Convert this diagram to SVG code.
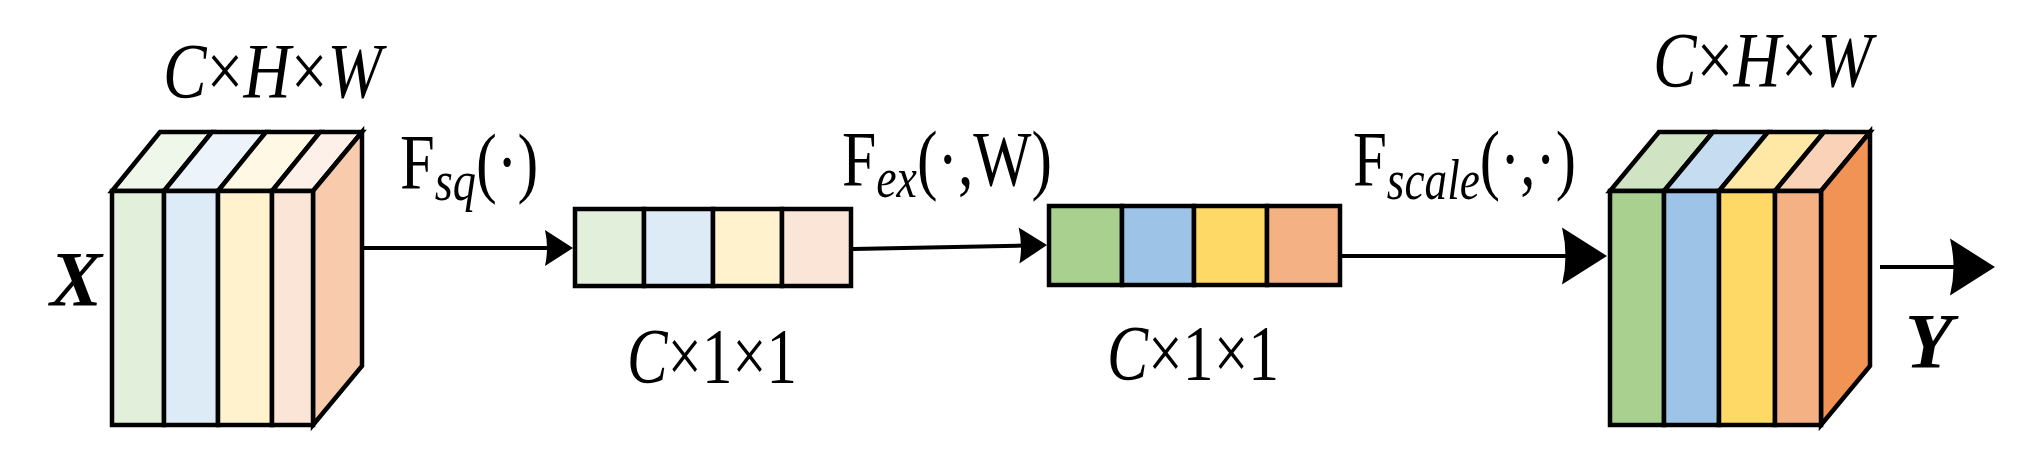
<svg xmlns="http://www.w3.org/2000/svg" width="2036" height="473" viewBox="0 0 2036 473">
<style>
.s{stroke:#000;stroke-width:4.5;stroke-linejoin:miter}
.ln{stroke:#000;stroke-width:4;fill:none}
.t{font-family:"Liberation Serif","Times New Roman",serif;fill:#000;font-size:78px}
.i{font-style:italic}
.n{font-style:normal}
.sub{font-style:italic;font-size:58px}
.bi{font-style:italic;font-weight:bold}
.g1{fill:#E2EFDA}.b1{fill:#DDEBF7}.y1{fill:#FFF2CC}.o1{fill:#FBE5D6}
.g1t{fill:#EFF6EA}.b1t{fill:#ECF3FA}.y1t{fill:#FFF8E5}.o1t{fill:#FDF0E8}.o1s{fill:#F8CBAD}
.g2{fill:#A9D08E}.b2{fill:#9DC3E6}.y2{fill:#FFD966}.o2{fill:#F4B183}
.g2t{fill:#D0E4C3}.b2t{fill:#C6DCF1}.y2t{fill:#FFE8A5}.o2t{fill:#F9D2B8}.o2s{fill:#F09354}
</style>
<defs>
<path id="headS" d="M-28,-18 L0,0 L-28,18 Q-24,0 -28,-18 Z" fill="#000"/>
<path id="headL" d="M-45,-28.5 L0,0 L-45,28.5 Q-38,0 -45,-28.5 Z" fill="#000"/>
</defs>

<g id="connectors">
<line class="ln" x1="364" y1="248" x2="550" y2="248"/>
<use href="#headS" transform="translate(573,248)"/>
<line class="ln" x1="853" y1="249" x2="1025" y2="245.5"/>
<use href="#headS" transform="translate(1047,245) rotate(-1.2)"/>
<line class="ln" x1="1342" y1="256" x2="1570" y2="256"/>
<use href="#headL" transform="translate(1607,256)"/>
<line class="ln" x1="1880" y1="267" x2="1958" y2="267"/>
<use href="#headL" transform="translate(1995,267)"/>
</g>

<g id="cube-x">
<polygon class="s g1t" points="112,191 164,191 212,132 160,132"/>
<polygon class="s b1t" points="164,191 218,191 266,132 212,132"/>
<polygon class="s y1t" points="218,191 272,191 320,132 266,132"/>
<polygon class="s o1t" points="272,191 313,191 362,132 320,132"/>
<polygon class="s o1s" points="313,191 362,132 362,366 313,425"/>
<rect class="s g1" x="112" y="191" width="52" height="234"/>
<rect class="s b1" x="164" y="191" width="54" height="234"/>
<rect class="s y1" x="218" y="191" width="54" height="234"/>
<rect class="s o1" x="272" y="191" width="41" height="234"/>
<text class="t i" transform="translate(163,97) scale(0.838,1)">C<tspan class="n">×</tspan>H<tspan class="n">×</tspan>W</text>
<text class="t bi" x="50" y="305">X</text>
</g>

<g id="vector-sq">
<rect class="s g1" x="575" y="209" width="69" height="77"/>
<rect class="s b1" x="644" y="209" width="69" height="77"/>
<rect class="s y1" x="713" y="209" width="69" height="77"/>
<rect class="s o1" x="782" y="209" width="69" height="77"/>
<text class="t" transform="translate(627,382) scale(0.78,1)"><tspan class="i">C</tspan>×1×1</text>
<text class="t" transform="translate(400,188) scale(0.80,1)">F<tspan class="sub" dy="12">sq</tspan><tspan dy="-12">(·)</tspan></text>
</g>

<g id="vector-ex">
<rect class="s g2" x="1049" y="206" width="73" height="79"/>
<rect class="s b2" x="1122" y="206" width="72" height="79"/>
<rect class="s y2" x="1194" y="206" width="73" height="79"/>
<rect class="s o2" x="1267" y="206" width="73" height="79"/>
<text class="t" transform="translate(1107,379) scale(0.79,1)"><tspan class="i">C</tspan>×1×1</text>
<text class="t" transform="translate(842,185) scale(0.79,1)">F<tspan class="sub" dy="12">ex</tspan><tspan dy="-12">(·,W)</tspan></text>
</g>

<g id="label-scale">
<text class="t" transform="translate(1353,185) scale(0.78,1)">F<tspan class="sub" dy="14">scale</tspan><tspan dy="-14">(·,·)</tspan></text>
</g>

<g id="cube-y">
<polygon class="s g2t" points="1610,191 1664,191 1713,132 1659,132"/>
<polygon class="s b2t" points="1664,191 1719,191 1768,132 1713,132"/>
<polygon class="s y2t" points="1719,191 1775,191 1824,132 1768,132"/>
<polygon class="s o2t" points="1775,191 1821,191 1870,132 1824,132"/>
<polygon class="s o2s" points="1821,191 1870,132 1870,366 1821,425"/>
<rect class="s g2" x="1610" y="191" width="54" height="234"/>
<rect class="s b2" x="1664" y="191" width="55" height="234"/>
<rect class="s y2" x="1719" y="191" width="56" height="234"/>
<rect class="s o2" x="1775" y="191" width="46" height="234"/>
<text class="t i" transform="translate(1653,86) scale(0.838,1)">C<tspan class="n">×</tspan>H<tspan class="n">×</tspan>W</text>
<text class="t bi" x="1905" y="367">Y</text>
</g>
</svg>
